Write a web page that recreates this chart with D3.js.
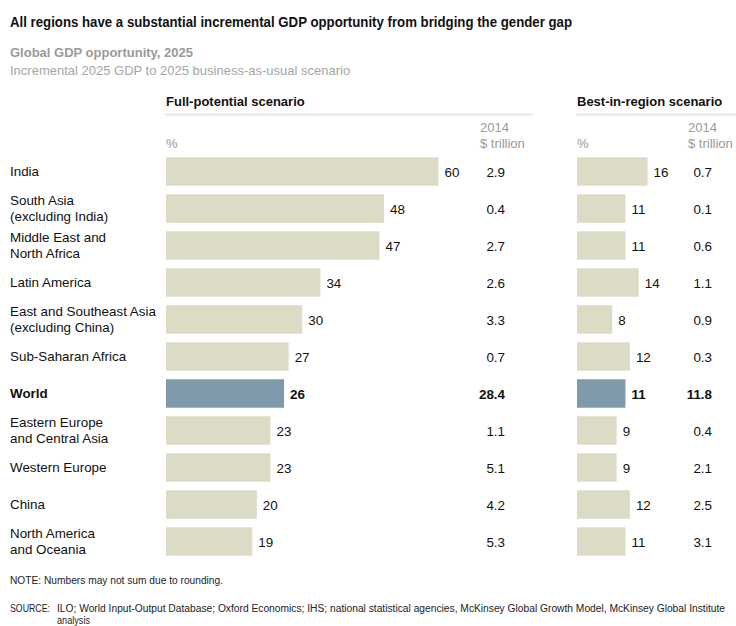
<!DOCTYPE html>
<meta charset="utf-8">
<script src="https://d3js.org/d3.v7.min.js"></script>
<style>
	body{
		margin:0;
		background:#fff;
		font-family: 'Liberation Sans', Arial, Helvetica, sans-serif;
	}
	.foot{
		font-family: 'Liberation Sans Narrow', 'Arial Narrow', 'Liberation Sans', Arial, sans-serif;
	}
</style>
<div id="chart"></div>
<script>

// data
var regions = ["India", "South Asia|(excluding India)", "Middle East and|North Africa", "Latin America",
	"East and Southeast Asia|(excluding China)", "Sub-Saharan Africa", "World",
	"Eastern Europe|and Central Asia", "Western Europe", "China", "North America|and Oceania"]
var fullPct = [60, 48, 47, 34, 30, 27, 26, 23, 23, 20, 19]
var fullUsd = ["2.9", "0.4", "2.7", "2.6", "3.3", "0.7", "28.4", "1.1", "5.1", "4.2", "5.3"]
var bestPct = [16, 11, 11, 14, 8, 12, 11, 9, 9, 12, 11]
var bestUsd = ["0.7", "0.1", "0.6", "1.1", "0.9", "0.3", "11.8", "0.4", "2.1", "2.5", "3.1"]
var highlight = "World"

var w = 736
var h = 626
var barColor = "#dcdbc6"
var worldColor = "#7f9aab"
var fs = "13.4px"

var svg = d3.select("#chart").append("svg").attr("width", w).attr("height", h)

// titles
svg.append("text").text("All regions have a substantial incremental GDP opportunity from bridging the gender gap")
	.attr("x", 10).attr("y", 27).style("font-size", "14px").style("font-weight", "bold").attr("fill", "#111")
	.attr("textLength", 562).attr("lengthAdjust", "spacingAndGlyphs")
svg.append("text").text("Global GDP opportunity, 2025")
	.attr("x", 10).attr("y", 57).style("font-size", "13px").style("font-weight", "bold").attr("fill", "#9a9a9a")
svg.append("text").text("Incremental 2025 GDP to 2025 business-as-usual scenario")
	.attr("x", 10).attr("y", 75).style("font-size", "13px").attr("fill", "#a6a6a6")

var y = d3.scaleBand().domain(regions).range([153, 560]).paddingInner(0.23).paddingOuter(0.115)

// row labels
var rows = svg.append("g")
regions.forEach(function(r){
	var lines = r.split("|")
	var cy = y(r) + y.bandwidth() / 2
	var t = rows.append("text").attr("x", 10).style("font-size", fs).attr("fill", "#111")
		.style("font-weight", r == highlight ? "bold" : "normal")
	lines.forEach(function(l, i){
		t.append("tspan").attr("x", 10)
			.attr("y", cy + 4.5 + (i - (lines.length - 1) / 2) * 15.5)
			.text(l)
	})
})

function drawPanel(title, x0, x1, lineEnd, pct, usd, maxVal, usdRight, headX){
	var x = d3.scaleLinear().domain([0, maxVal]).range([x0, x1])
	var g = svg.append("g")

	g.append("text").text(title).attr("x", x0).attr("y", 106)
		.style("font-size", "13px").style("font-weight", "bold").attr("fill", "#111")
	g.append("line").attr("x1", x0 - 1).attr("x2", lineEnd).attr("y1", 114.5).attr("y2", 114.5)
		.attr("stroke", "#e6e6e6").attr("stroke-width", 2)
	g.append("text").text("%").attr("x", x0).attr("y", 148)
		.style("font-size", "13px").attr("fill", "#999")
	g.append("text").text("2014").attr("x", headX).attr("y", 132)
		.style("font-size", "13px").attr("fill", "#999")
	g.append("text").text("$ trillion").attr("x", headX).attr("y", 148)
		.style("font-size", "13px").attr("fill", "#999")

	g.selectAll(".bar").data(regions).join("rect")
		.attr("class", "bar")
		.attr("x", x(0))
		.attr("y", function(d){ return y(d) })
		.attr("height", y.bandwidth())
		.attr("width", function(d, i){ return x(pct[i]) - x(0) })
		.attr("fill", function(d){ return d == highlight ? worldColor : barColor })

	g.selectAll(".val").data(regions).join("text")
		.attr("class", "val")
		.attr("x", function(d, i){ return x(pct[i]) + 6 })
		.attr("y", function(d){ return y(d) + y.bandwidth() / 2 + 5 })
		.style("font-size", fs).attr("fill", "#111")
		.style("font-weight", function(d){ return d == highlight ? "bold" : "normal" })
		.text(function(d, i){ return pct[i] })

	g.selectAll(".usd").data(regions).join("text")
		.attr("class", "usd")
		.attr("x", usdRight)
		.attr("text-anchor", "end")
		.attr("y", function(d){ return y(d) + y.bandwidth() / 2 + 5 })
		.style("font-size", fs).attr("fill", "#111")
		.style("font-weight", function(d){ return d == highlight ? "bold" : "normal" })
		.text(function(d, i){ return usd[i] })
}

drawPanel("Full-potential scenario", 166, 438.5, 533, fullPct, fullUsd, 60, 505, 480)
drawPanel("Best-in-region scenario", 577, 647.5, 736, bestPct, bestUsd, 16, 712, 688)

// notes
svg.append("text").attr("class", "foot").text("NOTE: Numbers may not sum due to rounding.")
	.attr("x", 10).attr("y", 584).style("font-size", "10.5px").attr("fill", "#222")
	.attr("textLength", 213).attr("lengthAdjust", "spacingAndGlyphs")
svg.append("text").attr("class", "foot").text("SOURCE:")
	.attr("x", 10).attr("y", 612).style("font-size", "10.5px").attr("fill", "#222")
	.attr("textLength", 40).attr("lengthAdjust", "spacingAndGlyphs")
svg.append("text").attr("class", "foot").text("ILO; World Input-Output Database; Oxford Economics; IHS; national statistical agencies, McKinsey Global Growth Model, McKinsey Global Institute")
	.attr("x", 57).attr("y", 612).style("font-size", "10px").attr("fill", "#222")
	.attr("textLength", 668).attr("lengthAdjust", "spacingAndGlyphs")
svg.append("text").attr("class", "foot").text("analysis")
	.attr("x", 57).attr("y", 624).style("font-size", "10.5px").attr("fill", "#222")
	.attr("textLength", 33).attr("lengthAdjust", "spacingAndGlyphs")

</script>
